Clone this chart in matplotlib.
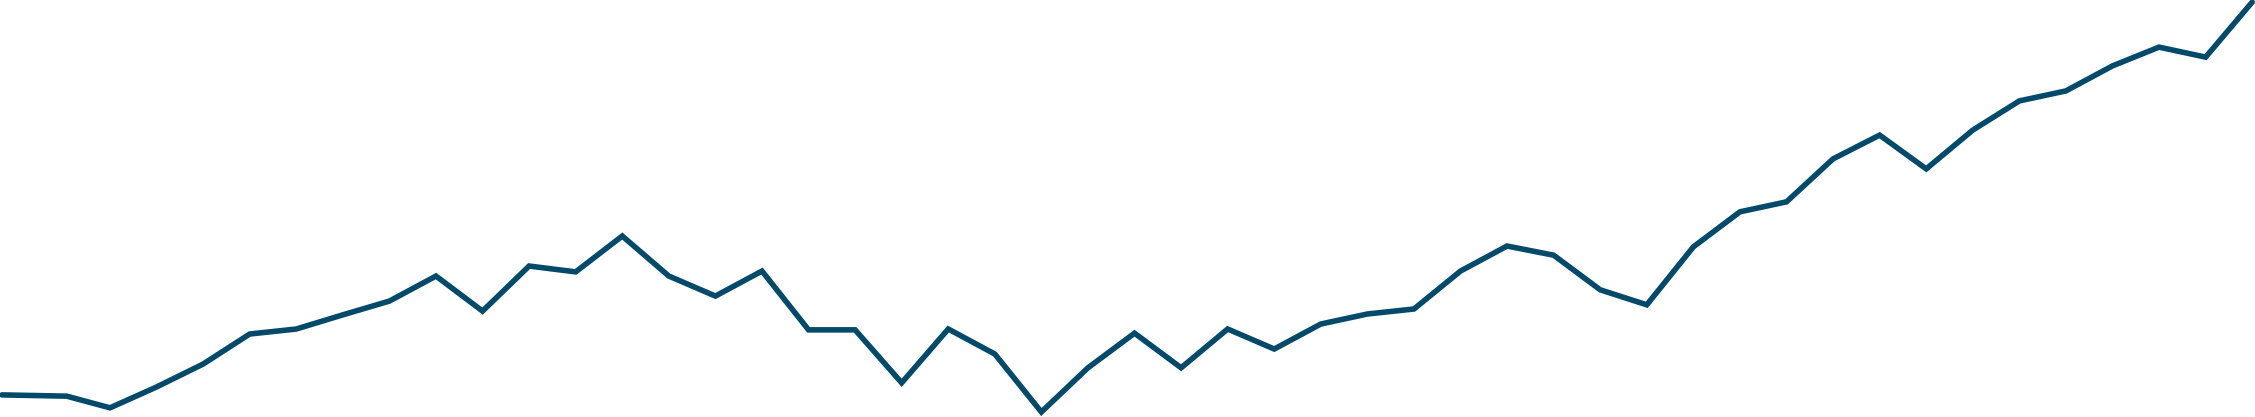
import numpy as np
import matplotlib
matplotlib.use('Agg')
import matplotlib.pyplot as plt

# period index (first two readings sit off the regular grid)
periods = [-2.32, -0.93] + list(range(0, 47))

# index value (0 = bottom edge, 100 = top edge)
values = [5.3, 5.0, 2.2, 7.2, 12.7, 19.9, 21.1, 24.5, 27.8, 33.8,
          25.4, 36.2, 34.8, 43.4, 33.8, 29.0, 35.0, 20.9, 20.9, 8.2,
          21.1, 15.1, 1.2, 11.8, 20.1, 11.8, 21.1, 16.3, 22.3, 24.7,
          25.9, 35.0, 41.0, 38.8, 30.5, 26.9, 40.8, 49.2, 51.6, 61.9,
          67.6, 59.5, 68.8, 75.8, 78.2, 84.2, 88.7, 86.3, 99.5]

line_color = '#034a6a'

fig = plt.figure(figsize=(22.55, 4.17), dpi=100)
ax = fig.add_axes([0, 0, 1, 1])
ax.plot(periods, values, color=line_color, linewidth=4.0,
        solid_capstyle='round', solid_joinstyle='miter')
ax.set_xlim(-2.362, 46.06)
ax.set_ylim(0, 100)
ax.axis('off')

fig.savefig('out.png', dpi=100, facecolor='white')
